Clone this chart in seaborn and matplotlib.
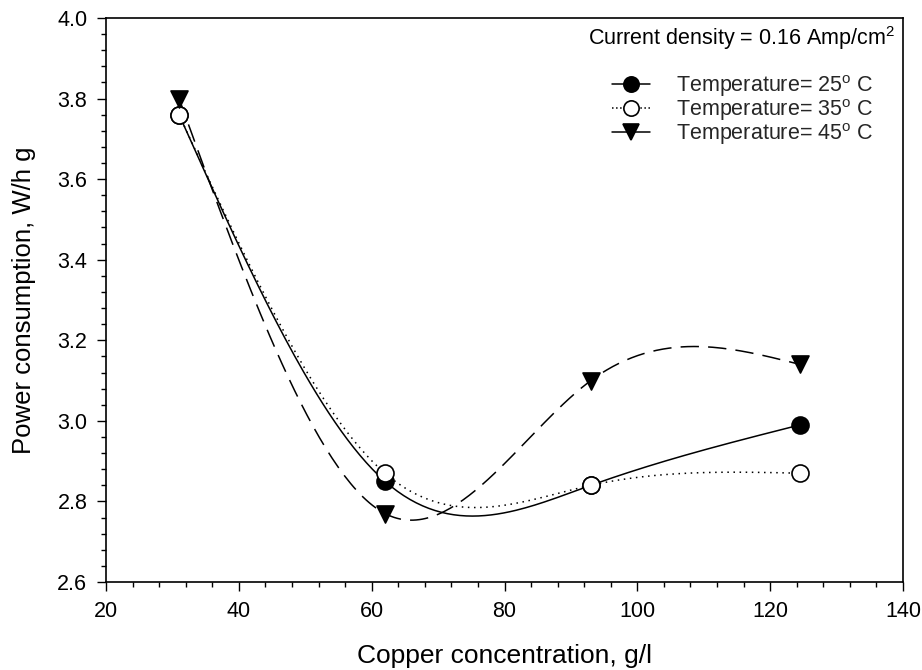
import numpy as np
import pandas as pd
import matplotlib
matplotlib.use("Agg")
import matplotlib.pyplot as plt
import seaborn as sns
from matplotlib.lines import Line2D
from matplotlib.ticker import MultipleLocator, FormatStrFormatter

copper = [31, 62, 93, 124.5]
power_25 = [3.76, 2.85, 2.84, 2.99]
power_35 = [3.76, 2.87, 2.84, 2.87]
power_45 = [3.80, 2.77, 3.10, 3.14]
labels = ["Temperature= 25$^{\\rm o}$ C", "Temperature= 35$^{\\rm o}$ C",
          "Temperature= 45$^{\\rm o}$ C"]


def natural_spline(x, y, n=200):
    # plain natural cubic spline for the smooth curve through the points
    x = np.asarray(x, float)
    y = np.asarray(y, float)
    k = len(x)
    h = np.diff(x)
    A = np.zeros((k, k))
    b = np.zeros(k)
    A[0, 0] = A[-1, -1] = 1
    for i in range(1, k - 1):
        A[i, i - 1] = h[i - 1]
        A[i, i] = 2 * (h[i - 1] + h[i])
        A[i, i + 1] = h[i]
        b[i] = 6 * ((y[i + 1] - y[i]) / h[i] - (y[i] - y[i - 1]) / h[i - 1])
    m = np.linalg.solve(A, b)
    xs = np.linspace(x[0], x[-1], n)
    idx = np.clip(np.searchsorted(x, xs) - 1, 0, k - 2)
    x0, x1 = x[idx], x[idx + 1]
    hh = x1 - x0
    t0, t1 = x1 - xs, xs - x0
    ys = (m[idx] * t0 ** 3 + m[idx + 1] * t1 ** 3) / (6 * hh) \
        + (y[idx] / hh - m[idx] * hh / 6) * t0 \
        + (y[idx + 1] / hh - m[idx + 1] * hh / 6) * t1
    return xs, ys


sns.set_theme(style="ticks")
plt.rcParams["font.family"] = ["Liberation Sans", "DejaVu Sans"]
plt.rcParams["mathtext.fontset"] = "custom"
plt.rcParams["mathtext.rm"] = "Liberation Sans"

fig = plt.figure(figsize=(9.22, 6.70), dpi=100)
ax = fig.add_axes([106 / 922, 1 - 582 / 670, (903 - 106) / 922, (582 - 18) / 670])

series = [
    (power_25, "-", "o", "black", None),
    (power_35, ":", "o", "white", (1, 3)),
    (power_45, "--", "v", "black", (12, 6)),
]
handles = []
for (vals, ls, mk, fc, dash), lab in zip(series, labels):
    xs, ys = natural_spline(copper, vals)
    curve = pd.DataFrame({"x": xs, "y": ys})
    sns.lineplot(data=curve, x="x", y="y", ax=ax, color="black", lw=1.1)
    if dash is not None:
        ax.lines[-1].set_dashes(dash)
    pts = pd.DataFrame({"x": copper, "y": vals})
    sns.scatterplot(data=pts, x="x", y="y", ax=ax, marker=mk, s=150,
                    color=fc, edgecolor="black", linewidth=1.2, zorder=5)
    h = Line2D([], [], color="black", lw=1.1, linestyle="-" if ls != ":" else ":",
               marker=mk, markersize=11, markerfacecolor=fc,
               markeredgecolor="black", markeredgewidth=1.2)
    handles.append(h)

ax.set_xlim(20, 140)
ax.set_ylim(2.6, 4.0)
ax.xaxis.set_major_locator(MultipleLocator(20))
ax.xaxis.set_minor_locator(MultipleLocator(4))
ax.yaxis.set_major_locator(MultipleLocator(0.2))
ax.yaxis.set_minor_locator(MultipleLocator(0.04))
ax.yaxis.set_major_formatter(FormatStrFormatter("%.1f"))
ax.tick_params(which="major", length=6.5, width=1, labelsize=15.5, color="black",
               labelcolor="black", pad=7)
ax.tick_params(which="minor", length=3.5, width=1, color="black")
for s in ax.spines.values():
    s.set_color("black")
    s.set_linewidth(1.2)

ax.set_xlabel("Copper concentration, g/l", fontsize=19, labelpad=16, color="black")
ax.set_ylabel("Power consumption, W/h g", fontsize=18.5, labelpad=15, color="black")

ax.text(0.99, 0.9645, "Current density = 0.16 Amp/cm$^{\\rm 2}$", transform=ax.transAxes,
        ha="right", va="center", fontsize=15.5, color="black")
ax.legend(handles=handles, labels=labels, loc="upper left",
          bbox_to_anchor=(0.635, 0.903), frameon=False, fontsize=15.5,
          borderpad=0, borderaxespad=0,
          handlelength=1.75, handletextpad=1.2, labelspacing=-0.08)

fig.savefig("out.png", dpi=100)
